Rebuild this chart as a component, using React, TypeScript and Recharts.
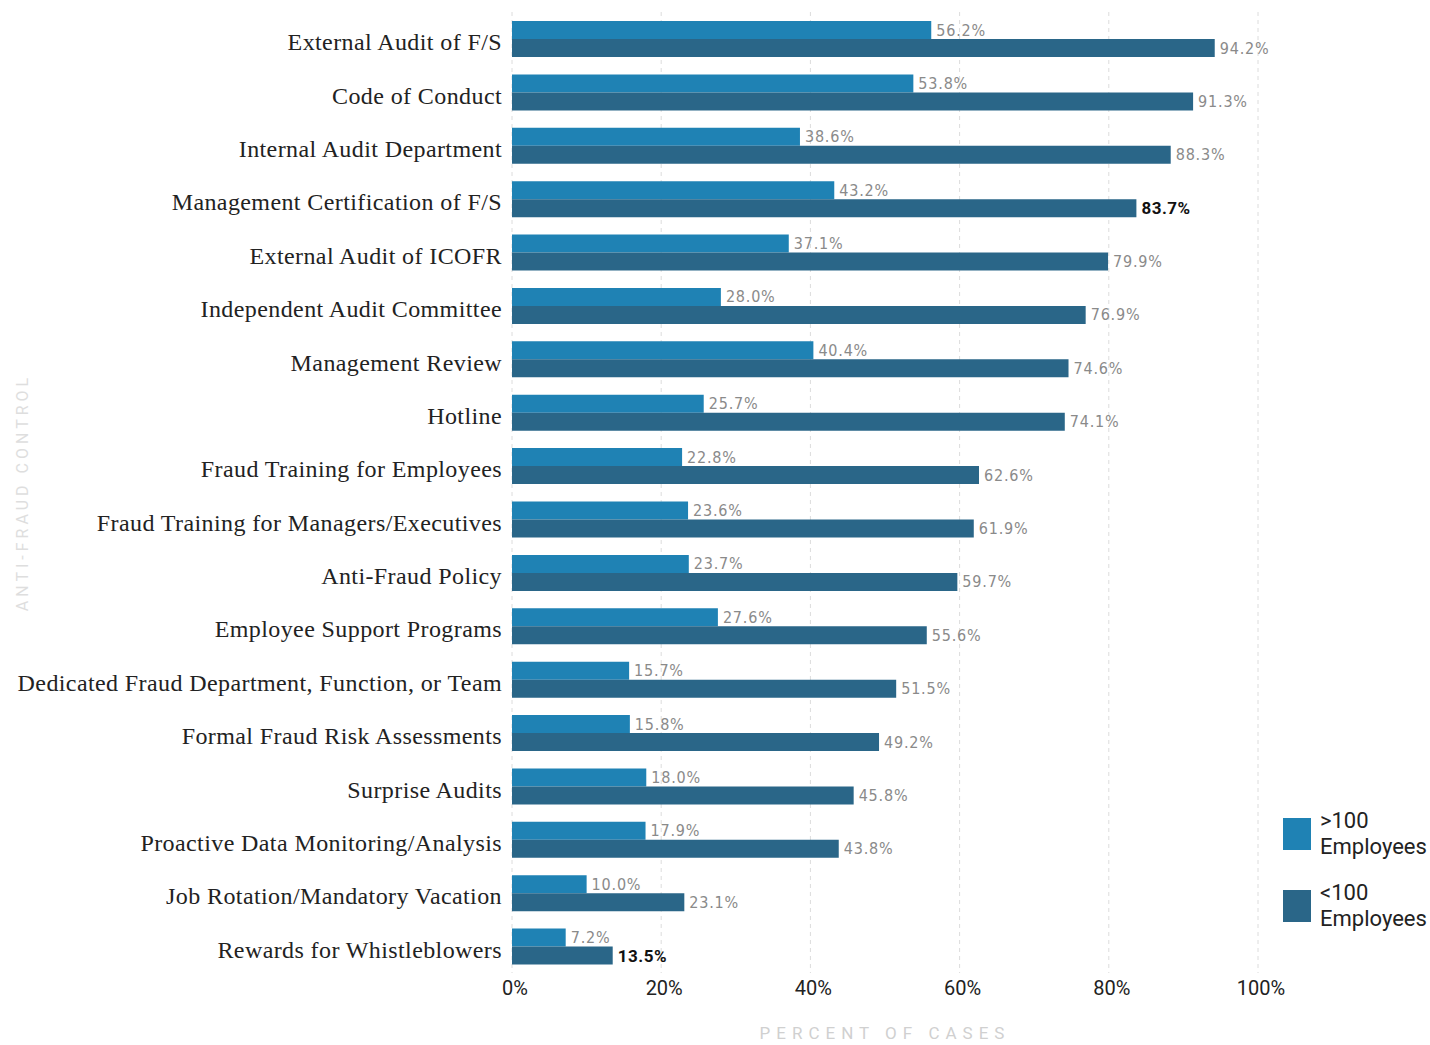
import { BarChart, Bar, XAxis, YAxis, CartesianGrid, LabelList } from "recharts";

const categories = [
  "External Audit of F/S",
  "Code of Conduct",
  "Internal Audit Department",
  "Management Certification of F/S",
  "External Audit of ICOFR",
  "Independent Audit Committee",
  "Management Review",
  "Hotline",
  "Fraud Training for Employees",
  "Fraud Training for Managers/Executives",
  "Anti-Fraud Policy",
  "Employee Support Programs",
  "Dedicated Fraud Department, Function, or Team",
  "Formal Fraud Risk Assessments",
  "Surprise Audits",
  "Proactive Data Monitoring/Analysis",
  "Job Rotation/Mandatory Vacation",
  "Rewards for Whistleblowers",
];

const over100 = [56.2, 53.8, 38.6, 43.2, 37.1, 28.0, 40.4, 25.7, 22.8, 23.6, 23.7, 27.6, 15.7, 15.8, 18.0, 17.9, 10.0, 7.2];
const under100 = [94.2, 91.3, 88.3, 83.7, 79.9, 76.9, 74.6, 74.1, 62.6, 61.9, 59.7, 55.6, 51.5, 49.2, 45.8, 43.8, 23.1, 13.5];

const xTicks = [0, 20, 40, 60, 80, 100];

const data = categories.map((name, i) => ({ name, over: over100[i], under: under100[i] }));

const LIGHT = "#1f82b4";
const DARK = "#2a6688";

// a couple of the printed values are set in bold black in the original
const boldValues = [83.7, 13.5];

function ValueLabel(props: any) {
  const { x, y, width, height, value } = props;
  const bold = boldValues.includes(value);
  return (
    <text
      x={x + width + 5}
      y={y + height / 2}
      dominantBaseline="central"
      fontFamily={bold ? "Roboto, sans-serif" : "'DejaVu Sans Condensed', Roboto, sans-serif"}
      fontSize={bold ? 17 : 16}
      letterSpacing={bold ? 0.5 : 0.8}
      fontWeight={bold ? 700 : 400}
      fill={bold ? "#111" : "#8a8a8a"}
    >
      {value.toFixed(1) + "%"}
    </text>
  );
}

function LegendBox() {
  const items = [
    { color: LIGHT, top: ">100" },
    { color: DARK, top: "<100" },
  ];
  return (
    <div
      style={{
        position: "absolute",
        left: 1283,
        top: 808,
        fontFamily: "Roboto, sans-serif",
        fontSize: 22,
        color: "#222",
        lineHeight: "26px",
      }}
    >
      {items.map((it) => (
        <div key={it.top} style={{ display: "flex", alignItems: "center", marginBottom: 20 }}>
          <div style={{ width: 28, height: 32, background: it.color, marginRight: 9 }} />
          <div>
            <div>{it.top}</div>
            <div>Employees</div>
          </div>
        </div>
      ))}
    </div>
  );
}

export default function App() {
  return (
    <div style={{ position: "absolute", left: 0, top: 0, width: 1430, height: 1045, background: "#fff" }}>
      <BarChart
        width={1430}
        height={1045}
        data={data}
        layout="vertical"
        margin={{ top: 12, right: 172, bottom: 0, left: 0 }}
        barGap={0}
        barSize={18}
      >
        <CartesianGrid horizontal={false} strokeDasharray="4 4" stroke="#dcdcdc" />
        <XAxis
          type="number"
          domain={[0, 100]}
          ticks={xTicks}
          tickFormatter={(v) => `${v}%`}
          axisLine={false}
          tickLine={false}
          height={72}
          tick={{ fontFamily: "Roboto, sans-serif", fontSize: 20, fill: "#222", dx: 3 }}
          label={{
            value: "PERCENT OF CASES",
            position: "insideBottom",
            offset: 6,
            fontFamily: "Roboto, sans-serif",
            fontSize: 17,
            letterSpacing: 6,
            fill: "#d0d0d0",
          }}
        />
        <YAxis
          type="category"
          dataKey="name"
          width={512}
          axisLine={false}
          tickLine={false}
          tickSize={0}
          tickMargin={10}
          interval={0}
          tick={{ fontFamily: "'Liberation Serif', serif", fontSize: 24, letterSpacing: 0.4, fill: "#222", dy: 3 }}
          label={{
            value: "ANTI-FRAUD CONTROL",
            angle: -90,
            position: "insideLeft",
            offset: 22,
            textAnchor: "middle",
            fontFamily: "Roboto, sans-serif",
            fontSize: 16,
            letterSpacing: 4,
            fill: "#dedede",
          }}
        />
        <Bar dataKey="over" name=">100 Employees" fill={LIGHT} isAnimationActive={false}>
          <LabelList dataKey="over" content={<ValueLabel />} />
        </Bar>
        <Bar dataKey="under" name="<100 Employees" fill={DARK} isAnimationActive={false}>
          <LabelList dataKey="under" content={<ValueLabel />} />
        </Bar>
      </BarChart>
      <LegendBox />
    </div>
  );
}
